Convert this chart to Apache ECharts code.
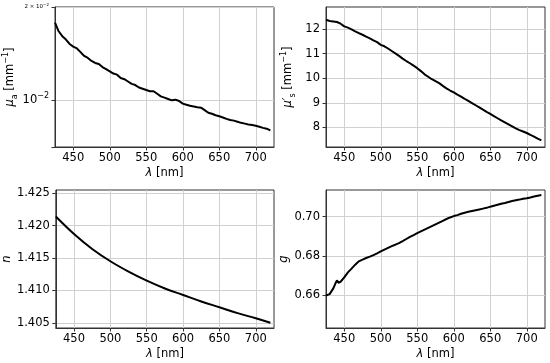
<!DOCTYPE html>
<html><head><meta charset="utf-8">
<script src="https://cdn.jsdelivr.net/npm/echarts@6/dist/echarts.min.js"></script>
<style>html,body{margin:0;padding:0;background:#fff}#c{width:550px;height:363px}</style>
</head><body><div id="c"></div>
<script>
// wavelength grid (nm)
const lambda = [425,430,435,440,445,450,455,460,465,470,475,480,485,490,495,500,505,510,515,520,525,530,535,540,545,550,555,560,565,570,575,580,585,590,595,600,605,610,615,620,625,630,635,640,645,650,655,660,665,670,675,680,685,690,695,700,705,710,715,720];
// absorption coefficient mu_a [mm^-1]
const muA = [0.0178,0.0167,0.0161,0.0157,0.0152,0.0149,0.0147,0.0143,0.0139,0.0137,0.0134,0.0132,0.0131,0.0128,0.0126,0.0124,0.0122,0.0121,0.0118,0.0117,0.0115,0.0113,0.0112,0.0110,0.0109,0.0108,0.0107,0.0107,0.0105,0.0103,0.0102,0.0101,0.0100,0.01005,0.00995,0.00976,0.00968,0.00960,0.00955,0.00950,0.00947,0.00930,0.00912,0.00905,0.00895,0.00888,0.00880,0.00871,0.00864,0.00860,0.00853,0.00846,0.00841,0.00836,0.00833,0.00828,0.00822,0.00815,0.00810,0.00800];
// reduced scattering coefficient mu_s' [mm^-1]
const muS = [12.38,12.33,12.31,12.29,12.22,12.11,12.06,11.99,11.91,11.84,11.77,11.69,11.62,11.54,11.47,11.36,11.30,11.21,11.11,11.01,10.91,10.80,10.70,10.61,10.51,10.41,10.29,10.16,10.06,9.96,9.88,9.80,9.69,9.59,9.50,9.42,9.33,9.25,9.16,9.08,8.99,8.90,8.81,8.72,8.63,8.55,8.46,8.37,8.28,8.20,8.12,8.04,7.96,7.89,7.83,7.77,7.69,7.62,7.54,7.47];
// refractive index n
const lambdaN = [425,450,475,500,525,550,575,600,625,650,675,700,720];
const nIdx = [1.4214,1.4187,1.4164,1.4145,1.4129,1.4115,1.4103,1.4093,1.4083,1.4074,1.4065,1.4057,1.4050];
// anisotropy g
const lambdaG = [425,427,430,435,438,440,442,445,450,455,460,465,470,475,480,485,490,495,500,505,510,515,520,525,530,535,540,545,550,555,560,565,570,575,580,585,590,595,600,605,610,615,620,625,630,635,640,645,650,655,660,665,670,675,680,685,690,695,700,705,710,715,720];
const gVal = [0.6598,0.6588,0.6605,0.6634,0.6660,0.6675,0.6663,0.6668,0.6690,0.6716,0.6735,0.6755,0.6772,0.6781,0.6789,0.6796,0.6804,0.6813,0.6823,0.6832,0.6841,0.6850,0.6857,0.6865,0.6875,0.6886,0.6897,0.6906,0.6916,0.6925,0.6934,0.6943,0.6952,0.6961,0.6970,0.6979,0.6988,0.6996,0.7003,0.7008,0.7015,0.7020,0.7025,0.7029,0.7033,0.7037,0.7041,0.7045,0.7051,0.7056,0.7061,0.7066,0.7070,0.7075,0.7080,0.7084,0.7087,0.7091,0.7094,0.7098,0.7103,0.7107,0.7111];
// tick labels
const xTicks = [450,500,550,600,650,700];
const muSTicks = [8,9,10,11,12];
const nTicks = [1.405,1.410,1.415,1.420,1.425];
const gTicks = [0.66,0.68,0.70];

const FONT = 'DejaVu Sans';
const FS = 11.5;
const pairs = (xs, ys) => xs.map((x, i) => [x, ys[i]]);

const grids = [
  {left:55, top:7, width:219, height:140},
  {left:326, top:7, width:219, height:140},
  {left:55, top:190, width:219, height:138},
  {left:326, top:190, width:219, height:138}
];
const gridOpt = grids.map(g => Object.assign({show:true, borderColor:'#333', borderWidth:1, backgroundColor:'#fff', containLabel:false}, g));

const nameRich = {
  i:{fontFamily:FONT, fontSize:FS, fontStyle:'italic', color:'#000'},
  r:{fontFamily:FONT, fontSize:FS, color:'#000'},
  sub:{fontFamily:FONT, fontSize:8, color:'#000', verticalAlign:'bottom', lineHeight:17},
  sup:{fontFamily:FONT, fontSize:8, color:'#000', verticalAlign:'top', lineHeight:17}
};

function xAxis(idx){
  return {
    type:'value', gridIndex:idx, min:425, max:725, splitNumber:6,
    name:'{i|λ}{r| [nm]}', nameLocation:'middle', nameGap:20,
    nameTextStyle:{rich:nameRich},
    axisLine:{show:true, onZero:false, lineStyle:{color:'#333', width:1}},
    axisTick:{show:true, length:3.5, inside:false, customValues:xTicks, lineStyle:{color:'#333'}},
    axisLabel:{show:true, customValues:xTicks, margin:5, fontFamily:FONT, fontSize:FS, color:'#000'},
    splitLine:{show:true, lineStyle:{color:'#d0d0d0', width:1}}
  };
}
function yAxisVal(idx, min, max, ticks, name, gap, fmt){
  return {
    type:'value', gridIndex:idx, min:min, max:max,
    name:name, nameLocation:'middle', nameGap:gap, nameRotate:90,
    nameTextStyle:{rich:nameRich},
    axisLine:{show:true, onZero:false, lineStyle:{color:'#333', width:1}},
    axisTick:{show:true, length:3.5, inside:false, customValues:ticks, lineStyle:{color:'#333'}},
    axisLabel:{show:true, customValues:ticks, margin:6, fontFamily:FONT, fontSize:FS, color:'#000', formatter:fmt},
    splitLine:{show:true, lineStyle:{color:'#d0d0d0', width:1}}
  };
}

const yA = {
  type:'log', logBase:10, gridIndex:0, min:0.00707, max:0.02,
  name:'{i|μ}{sub|a}{r| [mm}{sup|−1}{r|]}', nameLocation:'middle', nameGap:35, nameRotate:90,
  nameTextStyle:{rich:nameRich},
  axisLine:{show:true, onZero:false, lineStyle:{color:'#333', width:1}},
  axisTick:{show:true, length:3.5, inside:false, lineStyle:{color:'#333'}},
  axisLabel:{show:true, margin:6, fontFamily:FONT, fontSize:FS, color:'#000',
    showMinLabel:true, showMaxLabel:true,
    formatter:function(v){
      if (Math.abs(v-0.01) < 1e-5) return '{n|10}{s|−2}';
      if (Math.abs(v-0.02) < 1e-5) return '{t|2 × 10}{ts|−2}';
      return '';
    },
    rich:{
      n:{fontFamily:FONT, fontSize:FS, color:'#000'},
      s:{fontFamily:FONT, fontSize:8, color:'#000', verticalAlign:'top', lineHeight:17},
      t:{fontFamily:FONT, fontSize:5.5, color:'#000'},
      ts:{fontFamily:FONT, fontSize:4, color:'#000', verticalAlign:'top', lineHeight:9}
    }
  },
  splitLine:{show:true, lineStyle:{color:'#d0d0d0', width:1}}
};

const lineStyle = {color:'#000', width:2};
function line(idx, data, smooth){
  return {type:'line', xAxisIndex:idx, yAxisIndex:idx, data:data, showSymbol:false, symbol:'none',
    smooth:smooth||false, lineStyle:lineStyle, animation:false};
}

const option = {
  animation:false,
  backgroundColor:'#fff',
  grid:gridOpt,
  xAxis:[xAxis(0), xAxis(1), xAxis(2), xAxis(3)],
  yAxis:[
    yA,
    yAxisVal(1, 7.2, 12.9, muSTicks, '{i|μ′}{sub|s}{r| [mm}{sup|−1}{r|]}', 29, v => String(v)),
    yAxisVal(2, 1.4042, 1.4255, nTicks, '{i|n}', 42, v => v.toFixed(3)),
    yAxisVal(3, 0.6432, 0.7136, gTicks, '{i|g}', 36, v => v.toFixed(2))
  ],
  series:[
    line(0, pairs(lambda, muA)),
    line(1, pairs(lambda, muS)),
    line(2, pairs(lambdaN, nIdx), 0.4),
    line(3, pairs(lambdaG, gVal))
  ]
};
const chart = echarts.init(document.getElementById('c'), null, {renderer:'canvas'});
chart.setOption(option);
</script></body></html>
